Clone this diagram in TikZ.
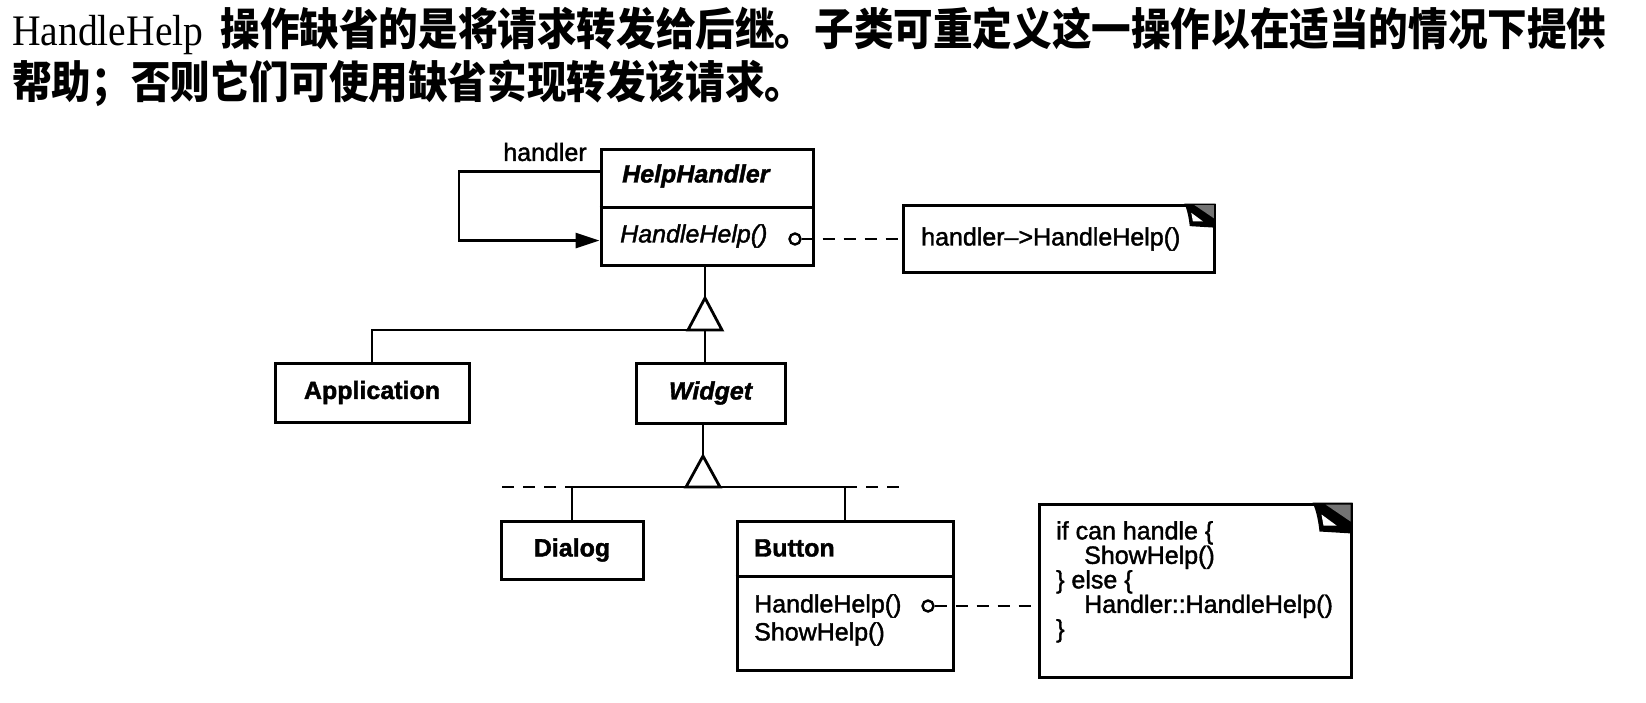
\documentclass[tikz,border=0pt]{standalone}
\usepackage{fontspec}
\setmainfont{Liberation Serif}
\setsansfont{Liberation Sans}[FakeBold=1.6]
\newfontfamily\cjk{Noto Sans CJK SC}
\usetikzlibrary{arrows.meta,calc}

\begin{document}
\begin{tikzpicture}[x=1pt,y=-1pt,
  umlbox/.style={draw, line width=3pt, inner sep=0pt},
  cname/.style={font=\sffamily\bfseries\fontsize{25}{30}\selectfont},
  aname/.style={font=\sffamily\bfseries\itshape\fontsize{25}{30}\selectfont},
  optext/.style={font=\sffamily\fontsize{25}{30}\selectfont, inner sep=0pt},
  link/.style={line width=2.8pt},
  dashlink/.style={line width=2.8pt, dash pattern=on 12pt off 9pt},
  pin/.style={circle, draw, line width=2.4pt, minimum size=11pt, inner sep=0pt, fill=white},
  title/.style={anchor=base west, inner sep=0pt, font=\fontsize{39.6}{48}\selectfont},
  dogear/.pic={
    \fill[black] (-40,0) .. controls (-36,8) and (-34,20) .. (-33,29) -- (0,31) -- (0,0) -- cycle;
    \fill[black!55] (-27,2) -- (-2,2) -- (-2,19) -- cycle;
    \fill[white] (-31,12) -- (-29,23) -- (-16,23) -- cycle;
  }
]
\useasboundingbox (0,0) rectangle (1646,702);

% heading text
\node[title] (t1) at (12,45) {\scalebox{1}[1.1]{HandleHelp}\hspace{17pt}\scalebox{1}[1.12]{\cjk\bfseries 操作缺省的是将请求转发给后继。子类可重定义这一操作以在适当的情况下提供}};
\node[title] (t2) at (12,98) {\scalebox{1}[1.12]{\cjk\bfseries 帮助；否则它们可使用缺省实现转发该请求。}};

% HelpHandler class
\node[umlbox, minimum width=212pt, minimum height=116pt] (hh) at (707,207) {};
\draw[line width=3pt] (hh.west) -- (hh.east);
\node[aname, anchor=west, inner sep=0pt] (hhname) at (622,176) {HelpHandler};
\node[optext, anchor=west, font=\sffamily\itshape\fontsize{25}{30}\selectfont] (hhop) at (620,236) {HandleHelp()};

% successor association
\node[optext] (hlabel) at (545,152) {handler};
\coordinate (loopL) at (459,206);
\draw[link, -{Triangle[length=24pt,width=15pt]}]
  ([yshift=-24pt]hh.north west) -| (loopL) |- ([yshift=26pt]hh.south west);

% note on HelpHandler::HandleHelp
\node[umlbox, minimum width=311pt, minimum height=67pt] (note1) at (1058.5,238.5) {};
\pic[scale=0.78] at (note1.north east) {dogear};
\node[optext, anchor=west] (note1txt) at (921,239) {handler\textendash{}>HandleHelp()};
\node[pin] (c1) at (795,239) {};
\draw[dashlink] (c1.east) -- (c1 -| note1.west);

% first generalization
\coordinate (g1) at (705,298);
\coordinate (b1) at (705,330);
\draw[link] (g1 |- hh.south) -- (g1);
\draw[link, line join=miter] (g1) -- ++(-17,32) -- ++(34,0) -- cycle;

\node[umlbox, cname, minimum width=194pt, minimum height=59pt] (app) at (372,392.5) {Application};
\node[umlbox, aname, minimum width=149pt, minimum height=60pt] (wid) at (710.5,393) {Widget};
\draw[link] (app.north) |- ($(b1)+(-17,0)$);
\draw[link] (b1) -- (b1 |- wid.north);

% second generalization
\coordinate (g2) at (703,456);
\coordinate (b2) at (703,487);
\draw[link] (g2 |- wid.south) -- (g2);
\draw[link, line join=miter] (g2) -- ++(-17,31) -- ++(34,0) -- cycle;

\node[umlbox, cname, minimum width=142pt, minimum height=58pt] (dlg) at (572,550) {Dialog};
\node[umlbox, minimum width=216pt, minimum height=149pt] (btn) at (845,595.5) {};
\draw[line width=3pt] ([yshift=-57pt]btn.north west) -- ([yshift=-57pt]btn.north east);
\node[cname, anchor=west, inner sep=0pt] (btnname) at (754,548) {Button};
\node[optext, anchor=west] (btnop1) at (754,606) {HandleHelp()};
\node[optext, anchor=west] (btnop2) at (754,634) {ShowHelp()};

\draw[link] (dlg.north) |- (b2) -| (btn.north);
\draw[dashlink] ([xshift=-70pt]dlg.north |- b2) -- (dlg.north |- b2);
\draw[dashlink] (btn.north |- b2) -- ++(62,0);

% note on Button::HandleHelp
\node[umlbox, minimum width=312pt, minimum height=173pt] (note2) at (1195,590.5) {};
\pic at (note2.north east) {dogear};
\node[optext, anchor=north west, align=left, font=\sffamily\fontsize{25}{24.5}\selectfont] (note2txt) at (1056,521)
  {if can handle \{\\
   \hspace*{28pt}ShowHelp()\\
   \} else \{\\
   \hspace*{28pt}Handler::HandleHelp()\\
   \}};
\node[pin] (c2) at (928,606) {};
\draw[dashlink] (c2.east) -- (c2 -| note2.west);
\end{tikzpicture}
\end{document}
